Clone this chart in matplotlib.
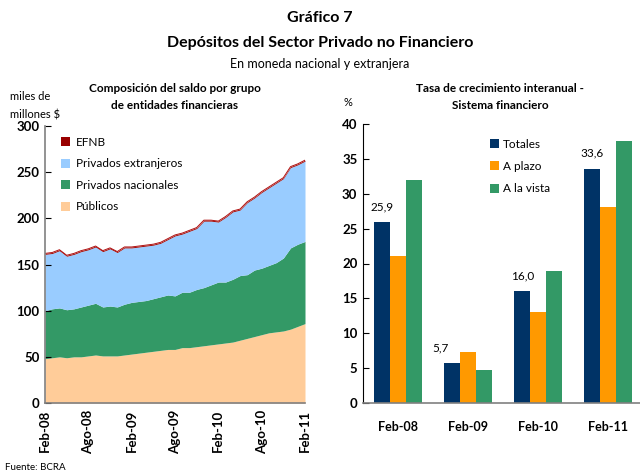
import numpy as np
import matplotlib.pyplot as plt

plt.rcParams['font.family'] = ['Lato', 'DejaVu Sans']

# --- panel izquierdo: saldo por grupo de entidades (miles de millones $), Feb-08 .. Feb-11 mensual
meses = np.arange(37)
publicos = [48, 49, 50, 49, 50, 50, 51, 52, 51, 51, 51, 52, 53, 54, 55, 56, 57, 58, 58,
            60, 60, 61, 62, 63, 64, 65, 66, 68, 70, 72, 74, 76, 77, 78, 80, 83, 86]
nacionales = [52, 53, 53, 52, 52, 54, 55, 56, 53, 54, 53, 55, 56, 56, 56, 57, 58, 59, 58,
              60, 60, 62, 63, 65, 67, 66, 68, 70, 69, 72, 72, 73, 75, 79, 88, 89, 89]
extranjeros = [61, 60, 62, 58, 59, 60, 60, 61, 60, 62, 59, 61,
               59, 59, 59, 58, 58, 60, 65, 63, 66, 66, 72, 69,
               65, 70, 73, 71, 78, 78, 82, 84, 86, 86, 87, 86, 87]
efnb = [1.0] * 37
xticks_izq = [0, 6, 12, 18, 24, 30, 36]
xlabels_izq = ['Feb-08', 'Ago-08', 'Feb-09', 'Ago-09', 'Feb-10', 'Ago-10', 'Feb-11']

# --- panel derecho: tasa de crecimiento interanual (%)
periodos = ['Feb-08', 'Feb-09', 'Feb-10', 'Feb-11']
totales = [25.9, 5.7, 16.0, 33.6]
a_plazo = [21.1, 7.3, 13.0, 28.1]
a_la_vista = [32.0, 4.7, 18.9, 37.6]

fig = plt.figure(figsize=(6.4, 4.74), dpi=100)
W, H = 640, 474

def ax_at(x0, y0, x1, y1):
    return fig.add_axes([x0 / W, 1 - y1 / H, (x1 - x0) / W, (y1 - y0) / H])

fig.text(0.5, 1 - 18 / H, 'Gráfico 7', ha='center', va='center', fontsize=11.5, fontweight='bold')
fig.text(0.5, 1 - 43 / H, 'Depósitos del Sector Privado no Financiero', ha='center', va='center',
         fontsize=11.5, fontweight='bold')
fig.text(0.5, 1 - 64 / H, 'En moneda nacional y extranjera', ha='center', va='center', fontsize=9)
fig.text(5 / W, 1 - 468 / H, 'Fuente: BCRA', ha='left', va='center', fontsize=7)

gris = '#808080'

# izquierdo
ax1 = ax_at(45, 126, 305, 403)
c1 = np.array(publicos, dtype=float)
c2 = c1 + np.array(nacionales)
c3 = c2 + np.array(extranjeros)
c4 = c3 + np.array(efnb)
ax1.fill_between(meses, 0, c1, color='#FFCC99', lw=0, label='Públicos')
ax1.fill_between(meses, c1, c2, color='#339966', lw=0, label='Privados nacionales')
ax1.fill_between(meses, c2, c3, color='#99CCFF', lw=0, label='Privados extranjeros')
ax1.fill_between(meses, c3, c4, color='#990000', lw=0, label='EFNB')
ax1.plot(meses, c4, color='#B01010', lw=0.7)
ax1.set_xlim(0, 36)
ax1.set_ylim(0, 300)
ax1.set_yticks(range(0, 301, 50))
ax1.set_xticks(xticks_izq)
ax1.set_xticklabels(xlabels_izq, rotation=90, fontweight='bold', fontsize=9.5)
ax1.tick_params(axis='x', length=0, pad=5)
ax1.tick_params(axis='y', direction='in', length=4, color='black', labelsize=9.5, pad=4)
for lab in ax1.get_yticklabels():
    lab.set_fontweight('bold')
for s in ['top', 'right']:
    ax1.spines[s].set_visible(False)
for s in ['left', 'bottom']:
    ax1.spines[s].set_color(gris)
    ax1.spines[s].set_linewidth(1.2)
h, l = ax1.get_legend_handles_labels()
ax1.legend(h[::-1], l[::-1], loc='upper left', bbox_to_anchor=(0.02, 1.0), frameon=False,
           fontsize=8.5, handlelength=0.8, handleheight=0.8, handletextpad=0.5, labelspacing=0.9)
fig.text(175 / W, 1 - 88 / H, 'Composición del saldo por grupo', ha='center', va='center',
         fontsize=8.5, fontweight='bold')
fig.text(175 / W, 1 - 106 / H, 'de entidades financieras', ha='center', va='center',
         fontsize=8.5, fontweight='bold')
fig.text(10 / W, 1 - 96 / H, 'miles de', ha='left', va='center', fontsize=8)
fig.text(10 / W, 1 - 115 / H, 'millones $', ha='left', va='center', fontsize=8)

# derecho
ax2 = ax_at(363, 124, 640, 403)
x = np.arange(len(periodos))
w = 0.225
ax2.bar(x - w, totales, w, color='#003366', label='Totales')
ax2.bar(x, a_plazo, w, color='#FF9900', label='A plazo')
ax2.bar(x + w, a_la_vista, w, color='#339966', label='A la vista')
desp = [0, -12, 0, 0]
for i, v in enumerate(totales):
    ax2.annotate(f'{v:.1f}'.replace('.', ','), (x[i] - w, v), xytext=(desp[i], 10),
                 textcoords='offset pixels', ha='center', va='bottom', fontsize=8.5)
ax2.set_xlim(-0.5, 3.457)
ax2.set_ylim(0, 40)
ax2.set_yticks(range(0, 41, 5))
ax2.set_xticks(x)
ax2.set_xticklabels(periodos, fontweight='bold', fontsize=9)
ax2.tick_params(axis='x', length=0, pad=13)
ax2.tick_params(axis='y', direction='in', length=4, labelsize=9.5, pad=4)
for lab in ax2.get_yticklabels():
    lab.set_fontweight('bold')
for s in ['top', 'right']:
    ax2.spines[s].set_visible(False)
ax2.spines['left'].set_color('black')
ax2.spines['bottom'].set_color(gris)
ax2.spines['bottom'].set_linewidth(1.2)
ax2.legend(loc='upper left', bbox_to_anchor=(0.42, 0.985), frameon=False, fontsize=8.5,
           handlelength=0.8, handleheight=0.8, handletextpad=0.3, labelspacing=0.95)
fig.text(500 / W, 1 - 88 / H, 'Tasa de crecimiento interanual -', ha='center', va='center',
         fontsize=8.5, fontweight='bold')
fig.text(500 / W, 1 - 106 / H, 'Sistema financiero', ha='center', va='center',
         fontsize=8.5, fontweight='bold')
fig.text(348 / W, 1 - 103 / H, '%', ha='center', va='center', fontsize=8)

fig.savefig('out.png', dpi=100)
